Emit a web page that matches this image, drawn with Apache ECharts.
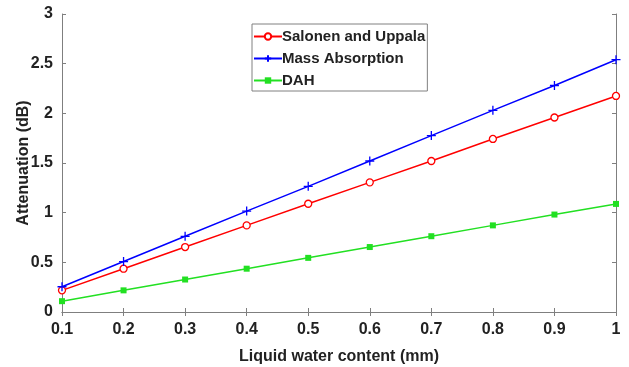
<!DOCTYPE html>
<html><head><meta charset="utf-8">
<script src="https://cdn.jsdelivr.net/npm/echarts@6/dist/echarts.min.js"></script>
<style>html,body{margin:0;padding:0;background:#fff}#c{width:629px;height:367px}</style>
</head><body><div id="c"></div>
<script>
const lwc = [0.1,0.2,0.3,0.4,0.5,0.6,0.7,0.8,0.9,1.0];
const salonen = [0.218,0.436,0.654,0.872,1.09,1.305,1.52,1.742,1.958,2.175];
const massAbs = [0.254,0.508,0.762,1.016,1.265,1.52,1.776,2.03,2.28,2.54];
const dah = [0.109,0.218,0.327,0.436,0.545,0.654,0.763,0.872,0.981,1.088];
const yTicks = [0,0.5,1,1.5,2,2.5,3];

const font = '"Liberation Sans", Arial, sans-serif';
const axisCol = '#7f7f7f';
const txtCol = '#222';
const pair = a => lwc.map((x,i)=>[x,a[i]]);
const plus = 'path://M5,0 L5,10 M0,5 L10,5';
const chart = echarts.init(document.getElementById('c'));
const common = {
  axisLine:{show:true,lineStyle:{color:axisCol,width:1}},
  axisTick:{show:true,inside:true,length:4,lineStyle:{color:axisCol}},
  splitLine:{show:false}
};
chart.setOption({
  animation:false,
  grid:{left:62,right:13,top:14,bottom:55,containLabel:false,outerBoundsMode:'none'},
  legend:{
    orient:'vertical', left:252, top:24, padding:[5,2,3,1],
    itemWidth:28, itemHeight:8, itemGap:7,
    borderColor:'#808080', borderWidth:1, backgroundColor:'#fff',
    textStyle:{fontFamily:font,fontWeight:'bold',fontSize:15,color:txtCol,padding:[0,0,0,-5]},
    data:['Salonen and Uppala','Mass Absorption','DAH']
  },
  xAxis:[
    Object.assign({type:'value',min:0.1,max:1,interval:0.1,
      name:'Liquid water content (mm)',nameLocation:'middle',nameGap:37,nameMoveOverlap:false,
      nameTextStyle:{fontFamily:font,fontWeight:'bold',fontSize:16,color:txtCol},
      axisLabel:{fontFamily:font,fontWeight:'bold',fontSize:16,color:txtCol,margin:10,
        formatter:v=>String(parseFloat(v.toFixed(1)))}},common),
    Object.assign({type:'value',position:'top',min:0.1,max:1,interval:0.1,axisLabel:{show:false}},common)
  ],
  yAxis:[
    Object.assign({type:'value',min:0,max:3,interval:0.5,
      name:'Attenuation (dB)',nameLocation:'middle',nameGap:30,nameMoveOverlap:false,
      nameTextStyle:{fontFamily:font,fontWeight:'bold',fontSize:16,color:txtCol},
      axisLabel:{fontFamily:font,fontWeight:'bold',fontSize:16,color:txtCol,margin:9,
        customValues:yTicks, formatter:v=>String(v)}},common),
    Object.assign({type:'value',position:'right',min:0,max:3,interval:0.5,axisLabel:{show:false}},common)
  ],
  series:[
    {name:'Salonen and Uppala',type:'line',data:pair(salonen),color:'#ff0000',
     lineStyle:{width:1.5,color:'#ff0000'},symbol:'circle',symbolSize:7,
     itemStyle:{color:'#fff',borderColor:'#ff0000',borderWidth:1.3}},
    {name:'Mass Absorption',type:'line',data:pair(massAbs),color:'#0000ff',
     lineStyle:{width:1.5,color:'#0000ff'},symbol:plus,symbolSize:9,
     itemStyle:{color:'none',borderColor:'#0000ff',borderWidth:1.3}},
    {name:'DAH',type:'line',data:pair(dah),color:'#00e000',
     lineStyle:{width:1.5,color:'#22e022'},symbol:'rect',symbolSize:6,
     itemStyle:{color:'#22e022',borderColor:'#22e022',borderWidth:0}}
  ]
});
</script></body></html>
